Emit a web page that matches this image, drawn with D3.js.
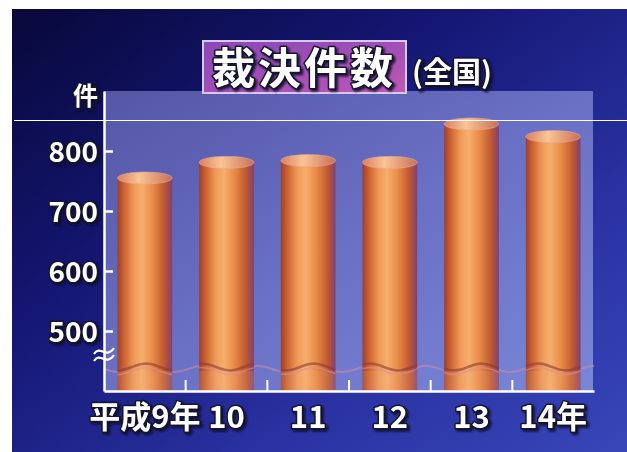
<!DOCTYPE html>
<html><head><meta charset="utf-8">
<script src="https://cdn.jsdelivr.net/npm/d3@7"></script>
<style>body{margin:0;background:#fff}svg{display:block}</style>
</head><body><svg id="c" width="627" height="452"></svg>
<script>
// ---- data ----
const categories = ["平成9年", "10", "11", "12", "13", "14年"];
const values = [765, 791, 794, 791, 855, 834];
const yTicks = [500, 600, 700, 800];
const yDomain = [400, 900];
const breakValue = 465;
const waveValue = 440;
const titleText = "裁決件数";
const subtitleText = "(全国)";
const unitText = "件";

// ---- layout ----
const W = 627, H = 452;
const plot = {left: 104, right: 594, top: 91, bottom: 391};
const FONT = "'Noto Sans CJK JP','Noto Sans CJK SC',sans-serif";

const svg = d3.select("#c");
const defs = svg.append("defs");

function lin(id, x1, y1, x2, y2, stops) {
  const g = defs.append("linearGradient").attr("id", id)
    .attr("x1", x1).attr("y1", y1).attr("x2", x2).attr("y2", y2);
  stops.forEach(s => g.append("stop").attr("offset", s[0]).attr("stop-color", s[1]));
}
lin("bg", "0", "0", "1", "1", [[0, "#08083a"], [0.35, "#141672"], [0.7, "#2a32a2"], [1, "#3846b8"]]);
lin("panel", "0", "0", "1", "1", [[0, "#5556a6"], [0.5, "#6a70c4"], [1, "#7a86d8"]]);
lin("bar", "0", "0", "1", "0", [[0, "#9a4030"], [0.1, "#c85c2c"], [0.3, "#ee9a58"], [0.45, "#f6ae6c"], [0.65, "#e88a46"], [0.85, "#c05a30"], [1, "#804070"]]);
lin("cap", "0", "0", "1", "0", [[0, "#d88060"], [0.4, "#fbc496"], [1, "#c87058"]]);
lin("titlebox", "0", "0", "1", "1", [[0, "#8a48b4"], [0.6, "#a650b6"], [1, "#c058b4"]]);

const sh = defs.append("filter").attr("id", "shadow").attr("x", "-20%").attr("y", "-20%").attr("width", "140%").attr("height", "140%");
sh.append("feDropShadow").attr("dx", 2).attr("dy", 2).attr("stdDeviation", 0.8).attr("flood-color", "#0a0a20").attr("flood-opacity", 0.9);

// background
svg.append("rect").attr("x", 0).attr("y", 0).attr("width", W).attr("height", H).attr("fill", "#ffffff");
svg.append("rect").attr("x", 12).attr("y", 9).attr("width", W - 12).attr("height", H - 9).attr("fill", "url(#bg)");

// scales
const x = d3.scaleBand().domain(categories).range([plot.left, plot.right]).paddingInner(0.33).paddingOuter(0.165);
const y = d3.scaleLinear().domain(yDomain).range([plot.bottom, plot.top]);

// panel
svg.append("rect").attr("x", plot.left).attr("y", plot.top)
  .attr("width", plot.right - plot.left - 1).attr("height", plot.bottom - plot.top)
  .attr("fill", "url(#panel)");

// faint wave across panel
const waveY = y(waveValue);
function wavePts(x0, x1, yc, amp) {
  const pts = [];
  const n = Math.ceil((x1 - x0) / 4);
  for (let i = 0; i <= n; i++) {
    const xx = x0 + (x1 - x0) * i / n;
    pts.push([xx, yc + amp * Math.sin((xx - plot.left) / 28 * Math.PI)]);
  }
  return pts;
}
const waveLine = d3.line().curve(d3.curveBasis);
svg.append("path").attr("d", waveLine(wavePts(plot.left, plot.right, waveY + 2, 3)))
  .attr("fill", "none").attr("stroke", "#c88aa8").attr("stroke-width", 2).attr("opacity", 0.6);

// bars
const ry = 6;
const bars = svg.append("g");
categories.forEach((c, i) => {
  const x0 = x(c), w = x.bandwidth(), v = values[i];
  const top = y(v) + ry;
  const g = bars.append("g");
  g.append("rect").attr("x", x0).attr("y", top).attr("width", w).attr("height", y(yDomain[0]) - top)
    .attr("fill", "url(#bar)");
  g.append("rect").attr("x", x0).attr("y", waveY + 4).attr("width", w).attr("height", y(yDomain[0]) - waveY - 4)
    .attr("fill", "#f4b890").attr("opacity", 0.18);
  g.append("ellipse").attr("cx", x0 + w / 2).attr("cy", top).attr("rx", w / 2).attr("ry", ry)
    .attr("fill", "url(#cap)").attr("stroke", "#e8a898").attr("stroke-width", 1).attr("stroke-opacity", 0.6);
  g.append("path").attr("d", waveLine(wavePts(x0, x0 + w, waveY, 3.5)))
    .attr("fill", "none").attr("stroke", "#8a3a38").attr("stroke-width", 2.5).attr("opacity", 0.6);
  g.append("path").attr("d", waveLine(wavePts(x0, x0 + w, waveY + 4, 3.5)))
    .attr("fill", "none").attr("stroke", "#d890a0").attr("stroke-width", 1.5).attr("opacity", 0.6);
});

function styleText(sel, size) {
  sel.attr("font-family", FONT).attr("font-weight", 700).attr("font-size", size)
    .attr("fill", "#ffffff").attr("stroke", "#141430").attr("stroke-width", 3)
    .attr("paint-order", "stroke").attr("stroke-linejoin", "round")
    .attr("filter", "url(#shadow)");
}

// y axis
const yAxis = d3.axisLeft(y).tickValues(yTicks).tickSizeInner(-9).tickSizeOuter(0).tickPadding(6).tickFormat(d3.format("d"));
const gy = svg.append("g").attr("transform", `translate(${plot.left},0)`).call(yAxis);
gy.select(".domain").attr("stroke", "#ffffff").attr("stroke-width", 2.5);
gy.selectAll(".tick line").attr("stroke", "#ffffff").attr("stroke-width", 2.5);
gy.selectAll(".tick text").call(styleText, 28).attr("dy", "0.36em");

svg.append("text").attr("x", plot.left - 6).attr("y", plot.top + 14).attr("text-anchor", "end")
  .text(unitText).call(styleText, 25);

// axis break symbol
const by = y(breakValue);
const bx = plot.left;
const brk = d3.path();
brk.moveTo(bx - 10, by + 2);
brk.bezierCurveTo(bx - 4, by - 8, bx + 2, by + 8, bx + 10, by - 4);
brk.moveTo(bx - 10, by + 9);
brk.bezierCurveTo(bx - 4, by - 1, bx + 2, by + 15, bx + 10, by + 3);
svg.append("path").attr("d", brk.toString()).attr("fill", "none")
  .attr("stroke", "#ffffff").attr("stroke-width", 2.2);

// x axis
const xAxis = d3.axisBottom(x).tickSize(0).tickPadding(0);
const gx = svg.append("g").attr("transform", `translate(0,${plot.bottom})`).call(xAxis);
gx.select(".domain").attr("stroke", "#ffffff").attr("stroke-width", 2.5);
gx.selectAll(".tick text").call(styleText, 31).attr("y", 37).attr("dy", 0);
const bounds = categories.slice(1).map((c) => x(c) - x.step() * x.paddingInner() / 2);
svg.append("g").selectAll("line").data(bounds).join("line")
  .attr("x1", d => d).attr("x2", d => d)
  .attr("y1", plot.bottom - 11).attr("y2", plot.bottom)
  .attr("stroke", "#ffffff").attr("stroke-width", 2);

// title
svg.append("rect").attr("x", 203).attr("y", 41).attr("width", 203).attr("height", 52)
  .attr("fill", "url(#titlebox)").attr("stroke", "#d8c8f0").attr("stroke-width", 2);
svg.append("text").attr("x", 304).attr("y", 84).attr("text-anchor", "middle")
  .attr("letter-spacing", 3).text(titleText).call(styleText, 43);
svg.append("text").attr("x", 412).attr("y", 83).attr("text-anchor", "start")
  .text(subtitleText).call(styleText, 29);

// thin white scan line
svg.append("line").attr("x1", 14).attr("x2", W).attr("y1", 120.5).attr("y2", 120.5)
  .attr("stroke", "#ffffff").attr("stroke-width", 1.2);
</script>
</body></html>
